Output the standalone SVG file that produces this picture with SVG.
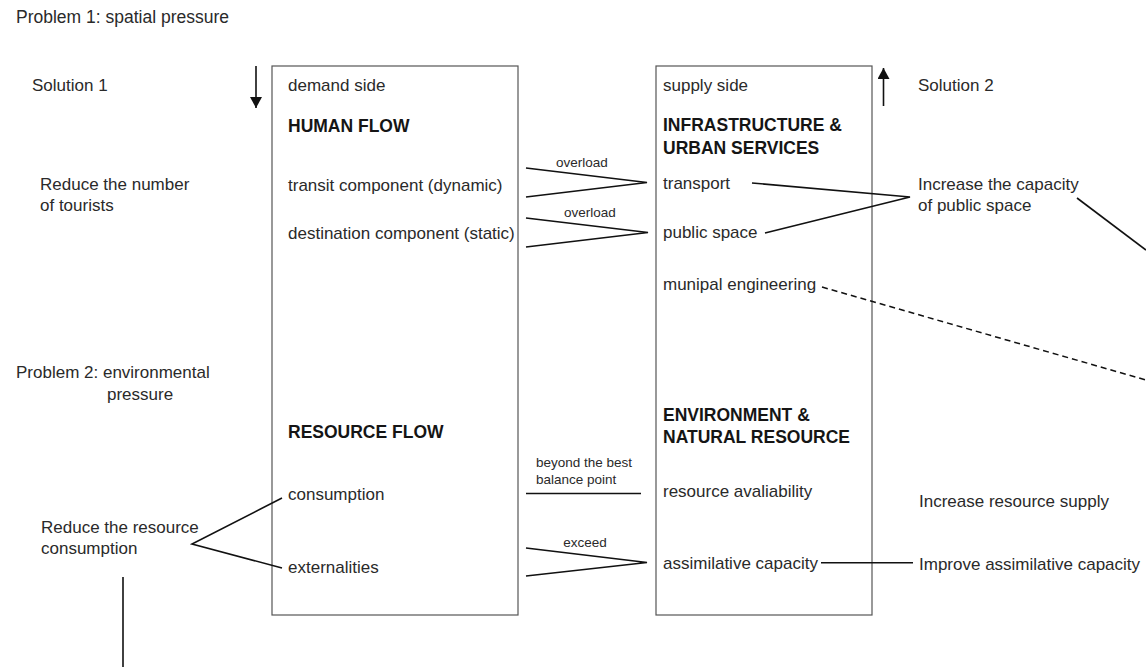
<svg xmlns="http://www.w3.org/2000/svg" width="1146" height="667" viewBox="0 0 1146 667">
<defs>
<style>
text{font-family:"Liberation Sans",Arial,sans-serif;fill:#2a2a2a;font-size:17px}
.h{font-weight:bold;fill:#151515;font-size:17.5px}
.s{font-size:13.5px}
.box{fill:none;stroke:#555;stroke-width:1.2}
.ln{fill:none;stroke:#111;stroke-width:1.6}
.dash{fill:none;stroke:#111;stroke-width:1.5;stroke-dasharray:6 4}
</style>
<marker id="ah" viewBox="0 0 11 12" refX="11" refY="6" markerWidth="11" markerHeight="12" markerUnits="userSpaceOnUse" orient="auto"><path d="M0,0 L11,6 L0,12 z" fill="#111"/></marker>
</defs>
<rect width="1146" height="667" fill="#fff"/>
<g id="labels">
<text x="16" y="23" style="font-size:17.5px">Problem 1: spatial pressure</text>
<text x="32" y="91">Solution 1</text>
<text x="40" y="190">Reduce the number</text>
<text x="40" y="211">of tourists</text>
<text x="16" y="378">Problem 2: environmental</text>
<text x="107" y="400">pressure</text>
<text x="41" y="533">Reduce the resource</text>
<text x="41" y="554">consumption</text>
<text x="918" y="91">Solution 2</text>
<text x="918" y="190">Increase the capacity</text>
<text x="918" y="211">of public space</text>
<text x="919" y="507">Increase resource supply</text>
<text x="919" y="570">Improve assimilative capacity</text>
</g>
<g id="demand-box">
<rect class="box" x="272" y="66" width="246" height="549"/>
<text x="288" y="91">demand side</text>
<text class="h" x="288" y="132">HUMAN FLOW</text>
<text x="288" y="191">transit component (dynamic)</text>
<text x="288" y="239">destination component (static)</text>
<text class="h" x="288" y="438">RESOURCE FLOW</text>
<text x="288" y="500">consumption</text>
<text x="288" y="573">externalities</text>
</g>
<g id="supply-box">
<rect class="box" x="656" y="66" width="216" height="549"/>
<text x="663" y="91">supply side</text>
<text class="h" x="663" y="131">INFRASTRUCTURE &amp;</text>
<text class="h" x="663" y="154">URBAN SERVICES</text>
<text x="663" y="189">transport</text>
<text x="663" y="238">public space</text>
<text x="663" y="290">munipal engineering</text>
<text class="h" x="663" y="421">ENVIRONMENT &amp;</text>
<text class="h" x="663" y="443">NATURAL RESOURCE</text>
<text x="663" y="497">resource avaliability</text>
<text x="663" y="569">assimilative capacity</text>
</g>
<g id="connectors">
<line class="ln" x1="256" y1="66" x2="256" y2="108" marker-end="url(#ah)"/>
<line class="ln" x1="883.5" y1="106" x2="883.5" y2="68" marker-end="url(#ah)"/>
<polyline class="ln" points="526,168 647,182.5 526,197"/>
<text class="s" x="582" y="167" text-anchor="middle">overload</text>
<polyline class="ln" points="526,218 648,232.5 526,247"/>
<text class="s" x="590" y="217" text-anchor="middle">overload</text>
<polyline class="ln" points="752,183 910,197 765,233"/>
<line class="ln" x1="1077" y1="198" x2="1146" y2="250"/>
<line class="dash" x1="822" y1="287" x2="1146" y2="380"/>
<text class="s" x="536" y="467">beyond the best</text>
<text class="s" x="536" y="484">balance point</text>
<line class="ln" x1="526" y1="493.5" x2="641" y2="493.5"/>
<text class="s" x="585" y="547" text-anchor="middle">exceed</text>
<polyline class="ln" points="526,548 647,562.5 526,576"/>
<line class="ln" x1="821" y1="562.7" x2="913" y2="562.7"/>
<polyline class="ln" points="282,498 192,544 282,568"/>
<line class="ln" x1="123" y1="577" x2="123" y2="667"/>
</g>
</svg>
